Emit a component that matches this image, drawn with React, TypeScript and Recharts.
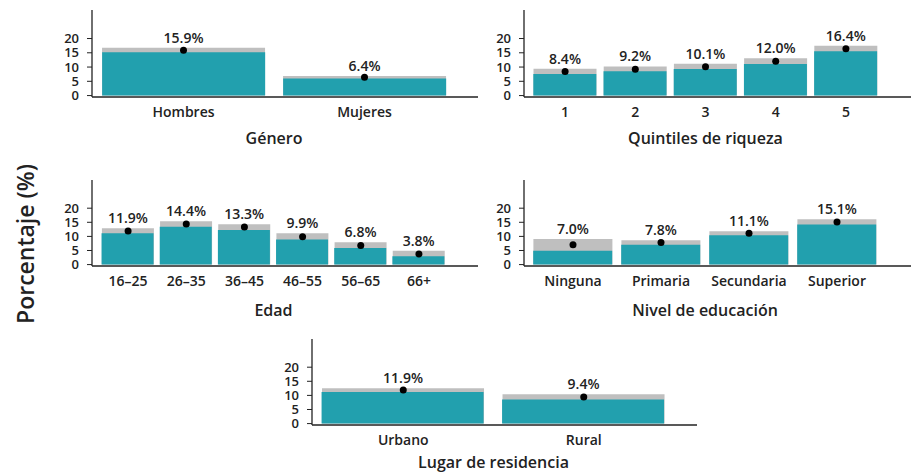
import { ComposedChart, Bar, Line, XAxis, YAxis, LabelList } from 'recharts';

const TEAL = '#22a0ae';
const GREY = '#bfbfbf';
const INK = '#222222';
const FONT = '"Open Sans", "Noto Sans", sans-serif';

const Y_TICKS = [0, 5, 10, 15, 20];

const generoCats = ['Hombres', 'Mujeres'];
const generoEst = [15.9, 6.4];
const generoLow = [15.2, 6.0];
const generoHigh = [16.8, 6.9];

const quintilCats = ['1', '2', '3', '4', '5'];
const quintilEst = [8.4, 9.2, 10.1, 12.0, 16.4];
const quintilLow = [7.6, 8.5, 9.3, 11.1, 15.5];
const quintilHigh = [9.4, 10.2, 11.2, 13.1, 17.5];

const edadCats = ['16–25', '26–35', '36–45', '46–55', '56–65', '66+'];
const edadEst = [11.9, 14.4, 13.3, 9.9, 6.8, 3.8];
const edadLow = [11.1, 13.4, 12.3, 8.9, 5.9, 3.0];
const edadHigh = [12.9, 15.4, 14.3, 11.1, 7.9, 4.9];

const educCats = ['Ninguna', 'Primaria', 'Secundaria', 'Superior'];
const educEst = [7.0, 7.8, 11.1, 15.1];
const educLow = [4.9, 7.0, 10.4, 14.2];
const educHigh = [9.1, 8.6, 11.8, 16.1];

const resCats = ['Urbano', 'Rural'];
const resEst = [11.9, 9.4];
const resLow = [11.2, 8.5];
const resHigh = [12.5, 10.4];

function rows(cats: string[], est: number[], low: number[], high: number[]) {
  return cats.map((name, i) => ({ name, est: est[i], low: low[i], high: high[i] }));
}

interface PanelProps {
  data: Array<{ name: string; est: number; low: number; high: number }>;
  title: string;
  axisX: number; // x of the y axis line
  top: number; // top of the y axis line
  bottom: number; // y of the x axis line
  rangeL: number;
  rangeR: number;
  axisEnd: number;
  titleY: number;
}

function Panel({ data, title, axisX, top, bottom, rangeL, rangeR, axisEnd, titleY }: PanelProps) {
  const yw = 60;
  const mt = 6;
  const xh = 30;
  const left = axisX - yw;
  const width = axisEnd - left;
  const height = mt + (bottom - top) + xh;
  const tickStyle = { fill: INK, fontSize: 14, fontFamily: FONT, fontWeight: 600 };
  return (
    <>
      <div style={{ position: 'absolute', left, top: top - mt }}>
        <ComposedChart
          width={width}
          height={height}
          data={data}
          margin={{ top: mt, right: 0, bottom: 0, left: 0 }}
          barCategoryGap="5%"
          barGap="-90%"
        >
          <XAxis
            dataKey="name"
            height={xh}
            tickLine={false}
            tickSize={0}
            tickMargin={10}
            axisLine={{ stroke: INK, strokeWidth: 1.3 }}
            padding={{ left: rangeL - axisX, right: axisEnd - rangeR }}
            tick={tickStyle}
            interval={0}
          />
          <YAxis
            width={yw}
            domain={[-0.5, 30]}
            ticks={Y_TICKS}
            tickSize={5}
            tickMargin={8}
            axisLine={{ stroke: INK, strokeWidth: 1.3 }}
            tickLine={{ stroke: INK }}
            tick={{ ...tickStyle, fontSize: 13 }}
            interval={0}
          />
          <Bar dataKey="high" fill={GREY} isAnimationActive={false}>
            <LabelList
              dataKey="est"
              position="top"
              offset={5}
              formatter={(v: any) => `${Number(v).toFixed(1)}%`}
              style={{ fill: INK, fontSize: 14, fontFamily: FONT, fontWeight: 600 }}
            />
          </Bar>
          <Bar dataKey="low" fill={TEAL} isAnimationActive={false} />
          <Line
            dataKey="est"
            stroke="none"
            dot={{ r: 3.5, fill: '#000', stroke: 'none' }}
            activeDot={false}
            isAnimationActive={false}
          />
        </ComposedChart>
      </div>
      <div
        style={{
          position: 'absolute',
          left: (rangeL + rangeR) / 2 - 150,
          top: titleY - 9,
          width: 300,
          lineHeight: '18px',
          textAlign: 'center',
          fontFamily: FONT,
          fontSize: 16,
          fontWeight: 600,
          color: INK,
        }}
      >
        {title}
      </div>
    </>
  );
}

export default function App() {
  return (
    <div style={{ position: 'relative', width: 912, height: 472, background: '#fff', overflow: 'hidden' }}>
      <style>{'body{margin:0}'}</style>
      <div
        style={{
          position: 'absolute',
          left: 25 - 100,
          top: 244 - 16,
          width: 200,
          height: 32,
          lineHeight: '32px',
          textAlign: 'center',
          transform: 'rotate(-90deg)',
          fontFamily: FONT,
          fontSize: 23,
          fontWeight: 600,
          color: INK,
        }}
      >
        Porcentaje (%)
      </div>
      <Panel
        data={rows(generoCats, generoEst, generoLow, generoHigh)}
        title="Género"
        axisX={92}
        top={10}
        bottom={97}
        rangeL={93}
        rangeR={455}
        axisEnd={478}
        titleY={138}
      />
      <Panel
        data={rows(quintilCats, quintilEst, quintilLow, quintilHigh)}
        title="Quintiles de riqueza"
        axisX={524}
        top={10}
        bottom={97}
        rangeL={530}
        rangeR={881}
        axisEnd={911}
        titleY={138}
      />
      <Panel
        data={rows(edadCats, edadEst, edadLow, edadHigh)}
        title="Edad"
        axisX={92}
        top={180}
        bottom={266}
        rangeL={99}
        rangeR={448}
        axisEnd={478}
        titleY={310}
      />
      <Panel
        data={rows(educCats, educEst, educLow, educHigh)}
        title="Nivel de educación"
        axisX={524}
        top={180}
        bottom={266}
        rangeL={529}
        rangeR={881}
        axisEnd={911}
        titleY={310}
      />
      <Panel
        data={rows(resCats, resEst, resLow, resHigh)}
        title="Lugar de residencia"
        axisX={312}
        top={339}
        bottom={425}
        rangeL={313}
        rangeR={674}
        axisEnd={697}
        titleY={462}
      />
    </div>
  );
}
